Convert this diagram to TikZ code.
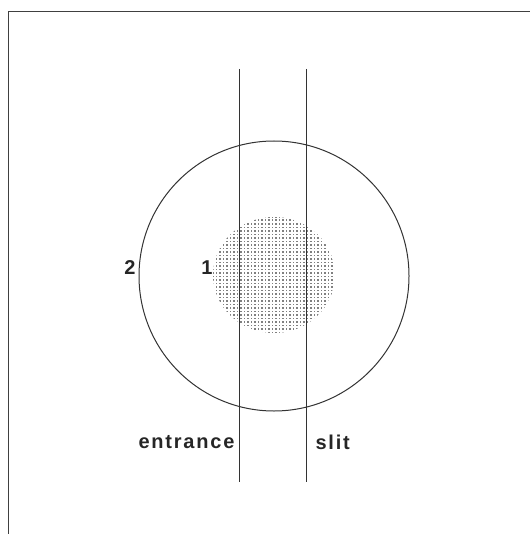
\documentclass[tikz,border=0pt]{standalone}
\usepackage{fontspec}
\setmainfont{Liberation Sans}
\begin{document}
\begin{tikzpicture}[x=1pt, y=-1pt, line width=1pt,
  lbl/.style={font=\bfseries\fontsize{20}{20}\selectfont\addfontfeature{LetterSpace=9}, text=black!85, inner sep=0pt}]
  \useasboundingbox (0,0) rectangle (530,534);
  % frame
  \draw[black!75] (8,534) -- (8,12) -- (530,12);
  % grey spot
  \begin{scope}
    \clip (274,275) ellipse (61 and 58);
    \foreach \i in {0,...,35} {
      \foreach \j in {0,...,34} {
        \fill[black!50] (212+3.5*\i,216+3.5*\j) rectangle +(1.7,1.7);
      }
    }
  \end{scope}
  % circle and slit
  \node (ring) [draw, black!80, circle, minimum size=270pt, inner sep=0pt] at (274,276) {};
  \coordinate (e1) at (239,69);
  \coordinate (e2) at (239,482);
  \coordinate (s1) at (306,69);
  \coordinate (s2) at (306,482);
  \draw[black!80] (e1) -- (e2);
  \draw[black!80] (s1) -- (s2);
  % labels
  \node (two) [lbl, anchor=east] at (136,268) {2};
  \node (one) [lbl, anchor=east] at (213,268) {1};
  \node (ent) [lbl, anchor=east] at (235,442) {entrance};
  \node (slit) [lbl, anchor=west] at (315,442) {slit};
\end{tikzpicture}
\end{document}
